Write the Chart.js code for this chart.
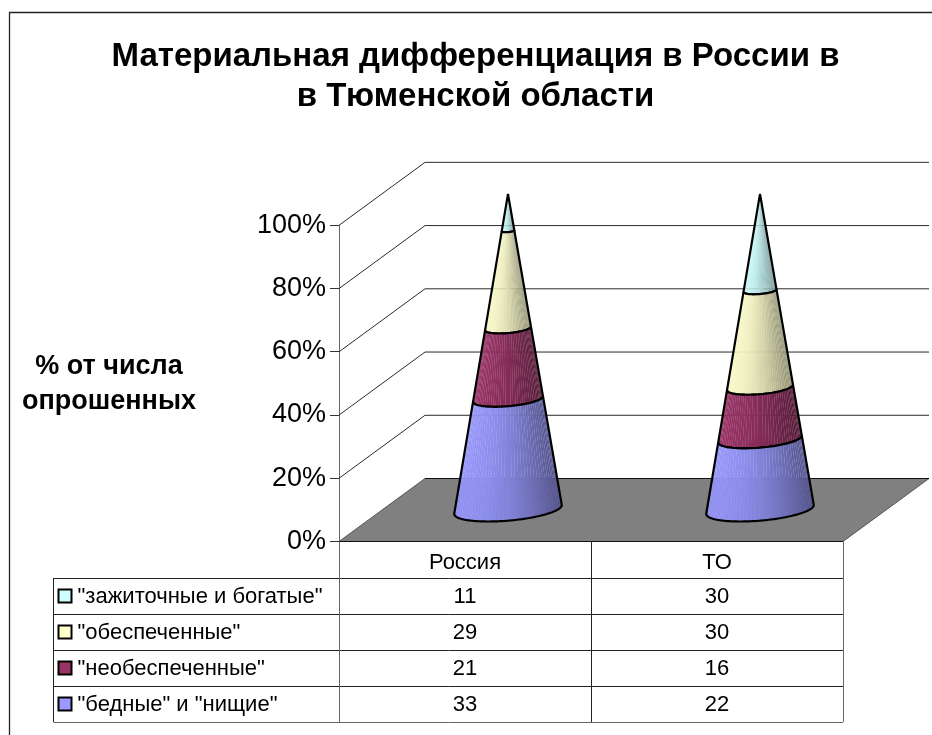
<!DOCTYPE html>
<html><head><meta charset="utf-8">
<style>html,body{margin:0;padding:0;background:#fff}#w{width:932px;height:735px;position:relative}</style>
<script src="https://cdn.jsdelivr.net/npm/chart.js@4/dist/chart.umd.js"></script>
</head><body><div id="w"><canvas id="c" width="932" height="735"></canvas></div>
<script>
const categories = ['Россия', 'ТО'];
const seriesNames = ['"бедные" и "нищие"', '"необеспеченные"', '"обеспеченные"', '"зажиточные и богатые"'];
const poor = [33, 22];
const unprovided = [21, 16];
const provided = [29, 30];
const rich = [11, 30];
const seriesColors = ['#9999FF', '#993366', '#FFFFCC', '#CCFFFF'];
const titleLines = ['Материальная дифференциация в России в', 'в Тюменской области'];
const axisTitleLines = ['% от числа', 'опрошенных'];
const FONT = '"Liberation Sans", Arial, sans-serif';

const allSeries = [poor, unprovided, provided, rich];
const totals = categories.map((_, i) => allSeries.reduce((s, a) => s + a[i], 0));
const asPercent = a => a.map((v, i) => v / totals[i] * 100);

// oblique projection of the 3D box
const DEPTH = {dx: 86, dy: 63};
const CONE = {r: 50, a: 20, b: 12, facets: 44};

function rgbShade(hex, k) {
  const n = parseInt(hex.slice(1), 16);
  const c = [n >> 16 & 255, n >> 8 & 255, n & 255].map(v => Math.round(v * k));
  return `rgb(${c[0]},${c[1]},${c[2]})`;
}

class ConeElement extends Chart.BarElement {
  draw(ctx) {
    const g = this.cone; if (!g) return;
    const cx = this.x + DEPTH.dx / 2, zero = g.zero - DEPTH.dy / 2, apex = g.apex - DEPTH.dy / 2;
    const H = zero - apex;
    const sOf = y => (y - DEPTH.dy / 2 - apex) / H;
    const sBot = sOf(this.base), sTop = Math.max(0, sOf(this.y));
    const beta = H / CONE.b, alpha = -beta * CONE.a / CONE.r;
    const phi = Math.atan2(beta, alpha), delta = Math.acos(1 / Math.hypot(alpha, beta));
    const t1 = phi + delta, t2 = phi - delta + Math.PI * 2;
    const P = (t, s) => [cx + s * (CONE.r * Math.cos(t) + CONE.a * Math.sin(t)),
                         apex + s * H - s * CONE.b * Math.sin(t)];
    const color = this.options.backgroundColor;
    const arc = (s, from, to) => {
      for (let i = 0; i <= 60; i++) ctx.lineTo(...P(from + (to - from) * i / 60, s));
    };
    ctx.save();
    // soft underlay keeps the seams between facets faint
    ctx.globalAlpha = 0.4;
    ctx.fillStyle = rgbShade(color, 0.84);
    ctx.beginPath();
    arc(sBot, t1, t2); arc(sTop, t2, t1);
    ctx.closePath(); ctx.fill();
    ctx.globalAlpha = 1;
    for (let i = 0; i < CONE.facets; i++) {
      const a = t1 + (t2 - t1) * i / CONE.facets, b = t1 + (t2 - t1) * (i + 1) / CONE.facets;
      const u = (Math.cos((a + b) / 2 - 0.38) + 1) / 2; // 1 = right side, 0 = left side
      ctx.fillStyle = rgbShade(color, 0.98 - 0.38 * u * u - 0.06 * u);
      ctx.beginPath();
      ctx.moveTo(...P(a, sBot)); ctx.lineTo(...P(b, sBot));
      ctx.lineTo(...P(b, sTop)); ctx.lineTo(...P(a, sTop));
      ctx.closePath(); ctx.fill();
    }
    ctx.strokeStyle = '#000'; ctx.lineWidth = 2.2; ctx.lineJoin = 'bevel';
    ctx.beginPath();
    arc(sBot, t1, t2); arc(sTop, t2, t1);
    ctx.closePath();
    ctx.stroke();
    ctx.restore();
  }
}
ConeElement.id = 'cone';
ConeElement.defaults = {};
class ConeController extends Chart.BarController {
  draw() {
    const meta = this._cachedMeta, y = meta.vScale;
    meta.data.forEach(e => { e.cone = {zero: y.getPixelForValue(0), apex: y.getPixelForValue(100)}; });
    super.draw();
  }
}
ConeController.id = 'cone';
ConeController.defaults = {dataElementType: 'cone'};
Chart.register(ConeElement, ConeController);

const boxPlugin = {
  id: 'box3d',
  beforeDatasetsDraw(chart) {
    const {ctx, scales: {x, y}} = chart;
    ctx.save();
    // walls: diagonal side lines + back lines
    ctx.lineWidth = 1; ctx.strokeStyle = '#2a2a2a';
    y.ticks.forEach(t => {
      const py = y.getPixelForValue(t.value);
      if (t.value === 0) return;
      ctx.beginPath();
      ctx.moveTo(x.left, py); ctx.lineTo(x.left + DEPTH.dx, py - DEPTH.dy);
      ctx.lineTo(x.right + DEPTH.dx, py - DEPTH.dy);
      ctx.stroke();
    });
    // floor
    const y0 = y.getPixelForValue(0);
    ctx.fillStyle = '#808080';
    ctx.beginPath();
    ctx.moveTo(x.left, y0); ctx.lineTo(x.right, y0);
    ctx.lineTo(x.right + DEPTH.dx, y0 - DEPTH.dy); ctx.lineTo(x.left + DEPTH.dx, y0 - DEPTH.dy);
    ctx.closePath(); ctx.fill();
    ctx.strokeStyle = '#555'; ctx.stroke();
    ctx.strokeStyle = '#111';
    ctx.beginPath();
    ctx.moveTo(x.left + DEPTH.dx, y0 - DEPTH.dy); ctx.lineTo(x.right + DEPTH.dx, y0 - DEPTH.dy);
    ctx.moveTo(x.left, y0); ctx.lineTo(x.right, y0);
    ctx.stroke();
    ctx.restore();
  },
  afterDraw(chart) {
    const {ctx, scales: {x, y}} = chart;
    ctx.save();
    const y0 = y.getPixelForValue(0);
    const rowH = 36, headH = 36.5, tableLeft = 53.5;
    const mid = (x.left + x.right) / 2;
    const rowTop = y0 + headH;
    const order = [3, 2, 1, 0];
    const bottom = rowTop + rowH * order.length;
    ctx.strokeStyle = '#222'; ctx.lineWidth = 1;
    ctx.beginPath();
    for (let i = 0; i < order.length; i++) {
      const ly = Math.round(rowTop + rowH * i) + 0.5;
      ctx.moveTo(tableLeft, ly); ctx.lineTo(x.right, ly);
    }
    ctx.moveTo(tableLeft, rowTop); ctx.lineTo(tableLeft, bottom);
    ctx.moveTo(Math.round(mid) + 0.5, y0); ctx.lineTo(Math.round(mid) + 0.5, bottom);
    ctx.stroke();
    ctx.strokeStyle = '#666';
    ctx.beginPath();
    const by = Math.round(bottom) + 0.5;
    ctx.moveTo(tableLeft, by); ctx.lineTo(x.right, by);
    [x.left, x.right].forEach(v => {
      ctx.moveTo(Math.round(v) + 0.5, y0); ctx.lineTo(Math.round(v) + 0.5, bottom);
    });
    ctx.stroke();
    ctx.fillStyle = '#000'; ctx.textBaseline = 'middle';
    order.forEach((s, r) => {
      const cy = rowTop + rowH * r + rowH / 2;
      ctx.fillStyle = seriesColors[s]; ctx.strokeStyle = '#000'; ctx.lineWidth = 2;
      ctx.fillRect(58.5, cy - 6.5, 13, 13); ctx.strokeRect(58.5, cy - 6.5, 13, 13);
      ctx.fillStyle = '#000'; ctx.font = '22px ' + FONT; ctx.textAlign = 'left';
      ctx.fillText(seriesNames[s], 77.5, cy + 1);
      ctx.textAlign = 'center';
      allSeries[s].forEach((v, i) => ctx.fillText(String(v), x.getPixelForTick(i), cy + 1));
    });
    // axis title
    ctx.font = 'bold 27px ' + FONT; ctx.textAlign = 'center';
    axisTitleLines.forEach((l, i) => ctx.fillText(l, 109, 367 + 34.5 * i));
    // chart frame
    ctx.strokeStyle = '#222'; ctx.lineWidth = 1.3;
    ctx.beginPath(); ctx.moveTo(9.5, 735); ctx.lineTo(9.5, 12.5); ctx.lineTo(932, 12.5); ctx.stroke();
    ctx.restore();
  }
};

new Chart(document.getElementById('c'), {
  type: 'cone',
  data: {
    labels: categories,
    datasets: seriesNames.map((n, i) => ({
      label: n, data: asPercent(allSeries[i]), backgroundColor: seriesColors[i],
      clip: false, categoryPercentage: 1, barPercentage: 1
    }))
  },
  plugins: [boxPlugin],
  options: {
    responsive: false, animation: false, devicePixelRatio: 1,
    layout: {padding: {left: 19, right: 0, top: 0, bottom: 0}},
    plugins: {
      legend: {display: false}, tooltip: {enabled: false},
      title: {display: true, text: titleLines, color: '#000',
        font: {family: FONT, size: 33, weight: 'bold', lineHeight: 1.24},
        padding: {top: 36, bottom: 107.5}}
    },
    scales: {
      x: {stacked: true, grid: {display: false}, border: {display: false},
        ticks: {color: '#000', font: {family: FONT, size: 22}, padding: 0, maxRotation: 0},
        afterFit(s) { s.height = 735 - 541.5; }},
      y: {stacked: true, min: 0, max: 100,
        grid: {drawOnChartArea: false, drawTicks: true, tickLength: 9, color: '#333'},
        border: {display: true, color: '#666'},
        ticks: {stepSize: 20, color: '#000', font: {family: FONT, size: 27}, padding: 4,
          callback: v => v + '%'},
        afterFit(s) { s.width = 339 - 19; }},
      rightGap: {type: 'linear', position: 'right', display: true,
        grid: {display: false}, border: {display: false}, ticks: {display: false},
        afterFit(s) { s.width = 932 - 843; }}
    }
  }
});
</script></body></html>
